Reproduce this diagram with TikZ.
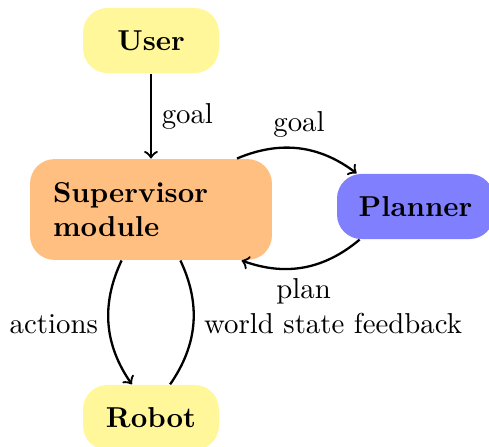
\documentclass[tikz,border=0pt]{standalone}
\definecolor{useryellow}{RGB}{255,247,153}
\tikzset{
  box/.style={rounded corners=8.5pt, font=\bfseries, inner sep=0pt},
  smallbox/.style={box, fill=useryellow, minimum width=47.2pt, minimum height=22.6pt},
  flow/.style={thick, ->},
  plainflow/.style={thick},
}
\begin{document}
\begin{tikzpicture}[x=0.3472pt, y=-0.3472pt]
  \useasboundingbox (0,0) rectangle (489,447);

  % components
  \node[smallbox] (user) at (151,40.5) {User};
  \node[box, fill=orange!50, text width=68pt, align=left,
        inner xsep=8pt, inner ysep=6pt, minimum height=35pt] (sup) at (151,209.5)
        {Supervisor\\module};
  \node[box, fill=blue!50, minimum width=54.5pt, minimum height=22.6pt] (plan) at (415.5,206.5) {Planner};
  \node[smallbox] (robot) at (151,417.5) {Robot};

  % data flow between components
  \draw[flow] (user) -- node[right] {goal} (sup);
  \draw[flow] (sup) to[bend left] node[above] {goal} (plan);
  \draw[flow] (plan) to[bend left] node[below] {plan} (sup);
  \draw[flow] (sup) to[bend right] node[left] {actions} (robot);
  \draw[plainflow] (robot) to[bend right] node[right] {world state feedback} (sup);
\end{tikzpicture}
\end{document}
